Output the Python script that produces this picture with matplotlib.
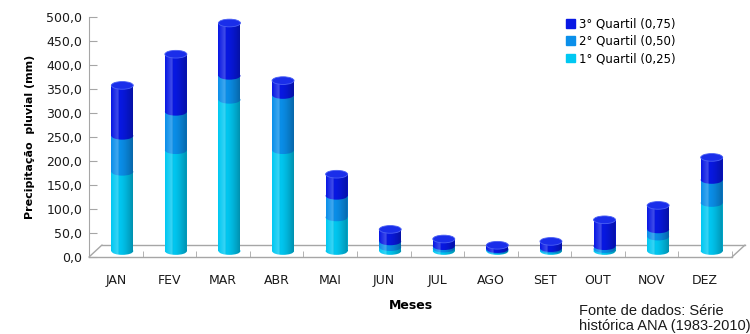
import numpy as np
import matplotlib
matplotlib.use("Agg")
import matplotlib.pyplot as plt
from matplotlib.patches import Ellipse, Rectangle, Patch, PathPatch
from matplotlib.path import Path
from matplotlib.transforms import offset_copy

# Dados (limites dos quartis, mm)
meses = ["JAN", "FEV", "MAR", "ABR", "MAI", "JUN", "JUL", "AGO", "SET", "OUT", "NOV", "DEZ"]
q1 = [165, 210, 315, 210, 70, 8, 5, 2, 3, 4, 30, 100]
q2 = [240, 290, 365, 325, 115, 20, 10, 4, 6, 10, 45, 148]
q3 = [345, 410, 475, 355, 160, 45, 25, 12, 20, 65, 95, 195]
y_ticks = [0, 50, 100, 150, 200, 250, 300, 350, 400, 450, 500]

cores = ["#00C8F2", "#0A8FEA", "#0818E4"]
topo = "#1A2EEA"
nomes = ["1° Quartil (0,25)", "2° Quartil (0,50)", "3° Quartil (0,75)"]

fig = plt.figure(figsize=(7.5, 3.34), dpi=100)
ax = fig.add_axes([89 / 750, 77 / 334, 643 / 750, 240 / 334])
ax.set_xlim(-0.5, 11.5)
ax.set_ylim(0, 500)

# deslocamento de profundidade (efeito 3D)
meio = offset_copy(ax.transData, fig=fig, x=6.5, y=6, units="dots")
fundo = offset_copy(ax.transData, fig=fig, x=13, y=12, units="dots")

# piso
cinza = "#A6A6A6"
ax.plot([-0.5, 11.5], [0, 0], color=cinza, lw=1, clip_on=False)
ax.plot([-0.5, 11.5], [0, 0], color=cinza, lw=1, clip_on=False, transform=fundo)
for xb in [-0.5, 11.5]:
    ax.annotate("", xy=(xb, 0), xycoords=fundo, xytext=(xb, 0), textcoords="data",
                arrowprops=dict(arrowstyle="-", color=cinza, lw=1, shrinkA=0, shrinkB=0))

x = np.arange(len(meses))
w = 0.41
eh = 16  # altura da elipse em mm

limites = [np.zeros(len(meses)), np.array(q1), np.array(q2), np.array(q3)]
for k in range(3):
    base = limites[k]
    alto = limites[k + 1]
    ax.bar(x, alto - base, bottom=base, width=w, color=cores[k], lw=0, transform=meio,
           clip_on=False, zorder=3 + k)
    for xi, b in zip(x, base):
        ax.add_patch(Ellipse((xi, b), w, eh, facecolor=cores[k], lw=0, transform=meio,
                             clip_on=False, zorder=3 + k))

# sombreamento cilíndrico
grad = np.linspace(0, 1, 64)
luz = np.zeros((1, 64, 4))
luz[0, :, :3] = np.where(grad[:, None] < 0.35, 1.0, 0.0)
luz[0, :, 3] = np.where(grad < 0.35, 0.22 * (1 - np.abs(grad - 0.3) / 0.3).clip(0, 1),
                        0.28 * ((grad - 0.35) / 0.65) ** 1.5)
for xi, t in zip(x, q3):
    r = Rectangle((xi - w / 2, 0), w, t)
    e = Ellipse((xi, 0), w, eh)
    p = Path.make_compound_path(r.get_patch_transform().transform_path(r.get_path()),
                                e.get_patch_transform().transform_path(e.get_path()))
    clip = PathPatch(p, transform=meio, visible=False)
    ax.add_patch(clip)
    im = ax.imshow(luz, extent=(xi - w / 2, xi + w / 2, -eh, t), aspect="auto",
                   transform=meio, zorder=6.5, interpolation="bilinear")
    im.set_clip_path(clip)
    ax.add_patch(Ellipse((xi, t), w, eh, facecolor=topo, edgecolor="#4A60F4", lw=0.6,
                         transform=meio, clip_on=False, zorder=7))
ax.set_xlim(-0.5, 11.5)
ax.set_ylim(0, 500)

# eixos
for s in ["top", "right", "bottom"]:
    ax.spines[s].set_visible(False)
ax.spines["left"].set_color(cinza)
ax.set_yticks(y_ticks)
ax.set_yticklabels([f"{v:.1f}".replace(".", ",") for v in y_ticks], fontsize=9, color="#1A1A1A")
ax.tick_params(axis="y", length=6, direction="in", color=cinza, pad=5)
ax.set_xticks(x)
ax.set_xticklabels(meses, fontsize=9, color="#1A1A1A")
ax.set_xticks(np.arange(-0.5, 12, 1), minor=True)
ax.tick_params(axis="x", which="major", length=0, pad=12)
ax.tick_params(axis="x", which="minor", length=4, direction="in", color=cinza)

ax.set_ylabel("Precipitação  pluvial (mm)", fontsize=8, fontweight="bold", labelpad=8)
ax.set_xlabel("Meses", fontsize=9, fontweight="bold", labelpad=9)

handles = [Patch(color=cores[2]), Patch(color=cores[1]), Patch(color=cores[0])]
ax.legend(handles, nomes[::-1], loc="upper left", bbox_to_anchor=(557 / 750, 0.975),
          bbox_transform=fig.transFigure, frameon=False, fontsize=8.5,
          handlelength=0.75, handleheight=0.75, handletextpad=0.3, labelspacing=0.35,
          borderpad=0.3)

fig.text(579 / 750, 1 / 334, "Fonte de dados: Série\nhistórica ANA (1983-2010)",
         fontsize=10.5, family="Liberation Sans", va="bottom", ha="left",
         linespacing=1.05, color="#1A1A1A")

fig.savefig("out.png", dpi=100)
